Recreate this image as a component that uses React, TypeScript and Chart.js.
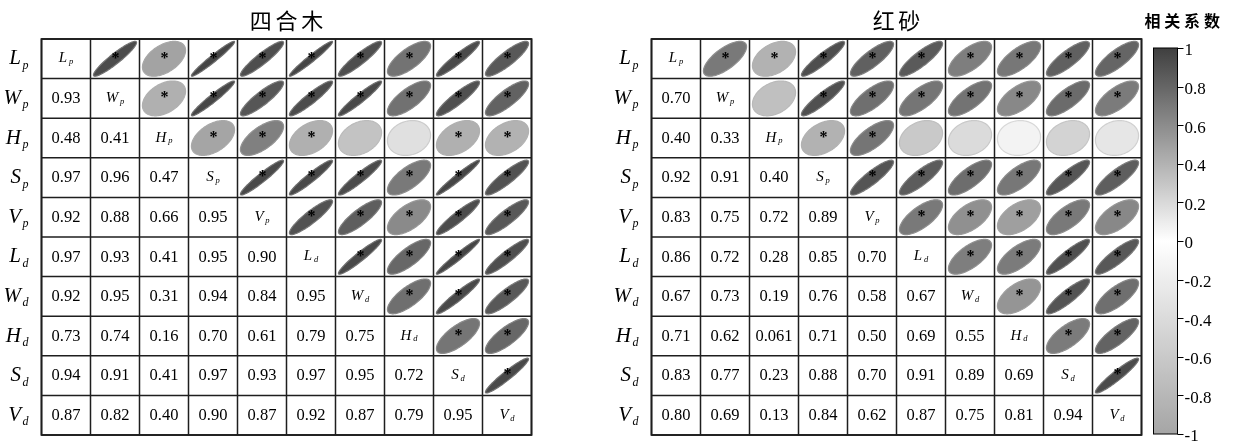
import React, { useEffect, useRef } from "react";
import { Chart, registerables } from "chart.js";
Chart.register(...registerables);

// ---------- data ----------
const VAR_MAIN = ["L", "W", "H", "S", "V", "L", "W", "H", "S", "V"];
const VAR_SUB = ["p", "p", "p", "p", "p", "d", "d", "d", "d", "d"];

const TITLE_LEFT = "四合木";
const TITLE_RIGHT = "红砂";
const LEGEND_TITLE = "相关系数";

// lower triangle, row by row (row i has i values)
const LEFT_LOWER: number[][] = [
  [],
  [0.93],
  [0.48, 0.41],
  [0.97, 0.96, 0.47],
  [0.92, 0.88, 0.66, 0.95],
  [0.97, 0.93, 0.41, 0.95, 0.9],
  [0.92, 0.95, 0.31, 0.94, 0.84, 0.95],
  [0.73, 0.74, 0.16, 0.7, 0.61, 0.79, 0.75],
  [0.94, 0.91, 0.41, 0.97, 0.93, 0.97, 0.95, 0.72],
  [0.87, 0.82, 0.4, 0.9, 0.87, 0.92, 0.87, 0.79, 0.95],
];

const RIGHT_LOWER: number[][] = [
  [],
  [0.7],
  [0.4, 0.33],
  [0.92, 0.91, 0.4],
  [0.83, 0.75, 0.72, 0.89],
  [0.86, 0.72, 0.28, 0.85, 0.7],
  [0.67, 0.73, 0.19, 0.76, 0.58, 0.67],
  [0.71, 0.62, 0.061, 0.71, 0.5, 0.69, 0.55],
  [0.83, 0.77, 0.23, 0.88, 0.7, 0.91, 0.89, 0.69],
  [0.8, 0.69, 0.13, 0.84, 0.62, 0.87, 0.75, 0.81, 0.94],
];

// pairs (row, col) in the upper triangle without a significance asterisk
const LEFT_NS: number[][] = [
  [2, 6],
  [2, 7],
];
const RIGHT_NS: number[][] = [
  [1, 2],
  [2, 5],
  [2, 6],
  [2, 7],
  [2, 8],
  [2, 9],
];

const COLORBAR_TICKS = [1, 0.8, 0.6, 0.4, 0.2, 0, -0.2, -0.4, -0.6, -0.8, -1];
const COLORBAR_LABELS = ["1", "0.8", "0.6", "0.4", "0.2", "0", "-0.2", "-0.4", "-0.6", "-0.8", "-1"];

// ---------- layout constants ----------
const N = 10;
const RIGHT_OFFSET = 12.449;
const SERIF = '"Liberation Serif", "DejaVu Serif", serif';
const CJK = '"Noto Sans CJK SC", "Noto Sans", sans-serif';

function corr(lower: number[][], i: number, j: number) {
  return i > j ? lower[i][j] : lower[j][i];
}
function isNS(ns: number[][], i: number, j: number) {
  return ns.some((p) => p[0] === i && p[1] === j);
}
function grayLevel(r: number) {
  return Math.round(r >= 0 ? 255 - 192 * r : 255 - 90 * -r);
}
function grayStr(g: number) {
  return `rgb(${g},${g},${g})`;
}

function buildDatasets(lower: number[][], ns: number[][], offset: number, name: string) {
  const ell: any[] = [];
  const num: any[] = [];
  const diag: any[] = [];
  for (let i = 0; i < N; i++) {
    for (let j = 0; j < N; j++) {
      const x = offset + j + 0.5;
      const y = i + 0.5;
      if (i < j) ell.push({ x, y, v: corr(lower, i, j), sig: !isNS(ns, i, j) });
      else if (i > j) num.push({ x, y, v: lower[i][j] });
      else diag.push({ x, y, idx: i });
    }
  }
  return [
    { label: name + "-ellipse", kind: "ellipse", data: ell, yAxisID: "y", xAxisID: "x", pointRadius: 0 },
    { label: name + "-number", kind: "number", data: num, yAxisID: "y", xAxisID: "x", pointRadius: 0 },
    { label: name + "-diag", kind: "diag", data: diag, yAxisID: "y", xAxisID: "x", pointRadius: 0 },
  ];
}

function drawSubLabel(
  ctx: CanvasRenderingContext2D,
  main: string,
  sub: string,
  x: number,
  baseline: number,
  mainSize: number,
  subSize: number,
  subDrop: number,
  gap: number,
  align: "right" | "center"
) {
  ctx.font = `italic ${mainSize}px ${SERIF}`;
  const wm = ctx.measureText(main).width;
  ctx.font = `italic ${subSize}px ${SERIF}`;
  const ws = ctx.measureText(sub).width;
  const total = wm + ws + gap;
  const start = align === "right" ? x - total : x - total / 2;
  ctx.textAlign = "left";
  ctx.textBaseline = "alphabetic";
  ctx.fillStyle = "#000";
  ctx.font = `italic ${mainSize}px ${SERIF}`;
  ctx.fillText(main, start, baseline);
  ctx.font = `italic ${subSize}px ${SERIF}`;
  ctx.fillText(sub, start + wm + gap, baseline + subDrop);
}

function drawEllipse(
  ctx: CanvasRenderingContext2D,
  cx: number,
  cy: number,
  hw: number,
  hh: number,
  r: number
) {
  const d = Math.acos(Math.max(-1, Math.min(1, r)));
  ctx.beginPath();
  const steps = 140;
  for (let k = 0; k <= steps; k++) {
    const t = (k / steps) * Math.PI * 2;
    const ex = Math.cos(t + d / 2);
    const ey = Math.cos(t - d / 2);
    const px = cx + ex * hw;
    const py = cy - ey * hh;
    if (k === 0) ctx.moveTo(px, py);
    else ctx.lineTo(px, py);
  }
  ctx.closePath();
  const g = grayLevel(r);
  ctx.fillStyle = grayStr(g);
  ctx.fill();
  const sg = Math.round(g * 0.6 + 175 * 0.4);
  ctx.strokeStyle = grayStr(sg);
  ctx.lineWidth = 1.2;
  ctx.stroke();
}

const matrixPlugin = {
  id: "corrMatrix",
  afterDatasetsDraw(chart: any) {
    const ctx: CanvasRenderingContext2D = chart.ctx;
    const xs = chart.scales.x;
    const ys = chart.scales.y;
    const yc = chart.scales.yc;
    const cellW = xs.getPixelForValue(1) - xs.getPixelForValue(0);
    const cellH = Math.abs(ys.getPixelForValue(1) - ys.getPixelForValue(0));
    ctx.save();

    // cell contents
    chart.data.datasets.forEach((ds: any, di: number) => {
      const meta = chart.getDatasetMeta(di);
      meta.data.forEach((pt: any, k: number) => {
        const raw = ds.data[k];
        const px = pt.x;
        const py = pt.y;
        if (ds.kind === "ellipse") {
          drawEllipse(ctx, px, py, cellW * 0.44, cellH * 0.44, raw.v);
          if (raw.sig) {
            ctx.font = `bold 16px ${SERIF}`;
            ctx.fillStyle = "#000";
            ctx.textAlign = "center";
            ctx.textBaseline = "alphabetic";
            const m = ctx.measureText("*");
            const target = py - 3.8;
            const base = target - (m.actualBoundingBoxDescent - m.actualBoundingBoxAscent) / 2;
            ctx.fillText("*", px + 0.5, base);
          }
        } else if (ds.kind === "number") {
          ctx.font = `16.5px ${SERIF}`;
          ctx.fillStyle = "#000";
          ctx.textAlign = "center";
          ctx.textBaseline = "alphabetic";
          ctx.fillText(raw.v.toPrecision(2), px, py + 4.8);
        } else if (ds.kind === "diag") {
          drawSubLabel(ctx, VAR_MAIN[raw.idx], VAR_SUB[raw.idx], px, py + 3.5, 15, 8.5, 1.8, 1.8, "center");
        }
      });
    });

    // grids, row labels, titles
    const offsets = [0, RIGHT_OFFSET];
    const titles = [TITLE_LEFT, TITLE_RIGHT];
    offsets.forEach((off, mi) => {
      const left = xs.getPixelForValue(off);
      const right = xs.getPixelForValue(off + N);
      const top = ys.getPixelForValue(0);
      const bottom = ys.getPixelForValue(N);
      ctx.strokeStyle = "#1e1e1e";
      ctx.lineWidth = 1.5;
      for (let k = 0; k <= N; k++) {
        const gx = xs.getPixelForValue(off + k);
        ctx.beginPath();
        ctx.moveTo(gx, top);
        ctx.lineTo(gx, bottom);
        ctx.stroke();
        const gy = ys.getPixelForValue(k);
        ctx.beginPath();
        ctx.moveTo(left, gy);
        ctx.lineTo(right, gy);
        ctx.stroke();
      }
      ctx.lineWidth = 1.8;
      ctx.strokeRect(left, top, right - left, bottom - top);

      for (let i = 0; i < N; i++) {
        const cy = ys.getPixelForValue(i + 0.5);
        drawSubLabel(ctx, VAR_MAIN[i], VAR_SUB[i], left - 13, cy + 5.5, 21, 12, 4.5, 1.5, "right");
      }

      // title, characters spaced
      const t = titles[mi];
      const cx = (left + right) / 2;
      const step = 25.7;
      ctx.font = `22px ${CJK}`;
      ctx.fillStyle = "#000";
      ctx.textAlign = "center";
      ctx.textBaseline = "middle";
      const chars = Array.from(t);
      chars.forEach((ch, ci) => {
        ctx.fillText(ch, cx + (ci - (chars.length - 1) / 2) * step, 21);
      });
    });

    // colour bar
    const barL = 1153;
    const barR = 1178;
    const barT = yc.getPixelForValue(1);
    const barB = yc.getPixelForValue(-1);
    const grad = ctx.createLinearGradient(0, barT, 0, barB);
    for (let s = 0; s <= 40; s++) {
      const v = 1 - (2 * s) / 40;
      grad.addColorStop(s / 40, grayStr(grayLevel(v)));
    }
    ctx.fillStyle = grad;
    ctx.fillRect(barL, barT, barR - barL, barB - barT);
    ctx.strokeStyle = "#000";
    ctx.lineWidth = 1;
    ctx.strokeRect(barL + 0.5, barT, barR - barL - 1, barB - barT);
    ctx.font = `17px ${SERIF}`;
    ctx.fillStyle = "#000";
    ctx.textAlign = "left";
    ctx.textBaseline = "middle";
    COLORBAR_TICKS.forEach((v, k) => {
      const ty = yc.getPixelForValue(v);
      ctx.beginPath();
      ctx.moveTo(barR - 0.5, Math.round(ty) + 0.5);
      ctx.lineTo(barR + 5.5, Math.round(ty) + 0.5);
      ctx.stroke();
      ctx.fillText(COLORBAR_LABELS[k], barR + 6.5, ty + 3);
    });

    // colour bar title
    ctx.font = `bold 16px ${CJK}`;
    ctx.textAlign = "center";
    ctx.textBaseline = "middle";
    Array.from(LEGEND_TITLE).forEach((ch, ci) => {
      ctx.fillText(ch, 1152.5 + ci * 19.8, 21);
    });

    ctx.restore();
  },
};

export default function App() {
  const ref = useRef<HTMLCanvasElement | null>(null);
  useEffect(() => {
    document.body.style.margin = "0";
    document.body.style.overflow = "hidden";
    const canvas = ref.current;
    if (!canvas) return;
    const datasets = [
      ...buildDatasets(LEFT_LOWER, LEFT_NS, 0, "left"),
      ...buildDatasets(RIGHT_LOWER, RIGHT_NS, RIGHT_OFFSET, "right"),
    ];
    const chart = new Chart(canvas, {
      type: "scatter",
      data: { datasets: datasets as any },
      options: {
        responsive: false,
        animation: false,
        devicePixelRatio: 1,
        events: [],
        layout: { padding: { left: 41.5, right: 94.5, top: 39, bottom: 7 } },
        plugins: { legend: { display: false }, tooltip: { enabled: false } },
        elements: { point: { radius: 0, hoverRadius: 0 } },
        scales: {
          x: { type: "linear", min: 0, max: 22.449, display: false },
          y: { type: "linear", min: 0, max: 10, reverse: true, display: false },
          yc: { type: "linear", min: -1.00518, max: 1.04663, display: false, position: "right" },
        },
      } as any,
      plugins: [matrixPlugin],
    });
    const fontsToLoad = [
      `16px "Liberation Serif"`,
      `italic 16px "Liberation Serif"`,
      `bold 16px "Liberation Serif"`,
      `22px "Noto Sans CJK SC"`,
      `bold 16px "Noto Sans CJK SC"`,
    ];
    Promise.all(fontsToLoad.map((f) => (document as any).fonts.load(f, "四合木红砂相关系数Lp0.9*")))
      .then(() => chart.draw())
      .catch(() => {});
    return () => chart.destroy();
  }, []);
  return (
    <div style={{ width: 1236, height: 442, position: "relative", background: "#fff" }}>
      <canvas ref={ref} width={1236} height={442} style={{ display: "block", width: 1236, height: 442 }} />
    </div>
  );
}
